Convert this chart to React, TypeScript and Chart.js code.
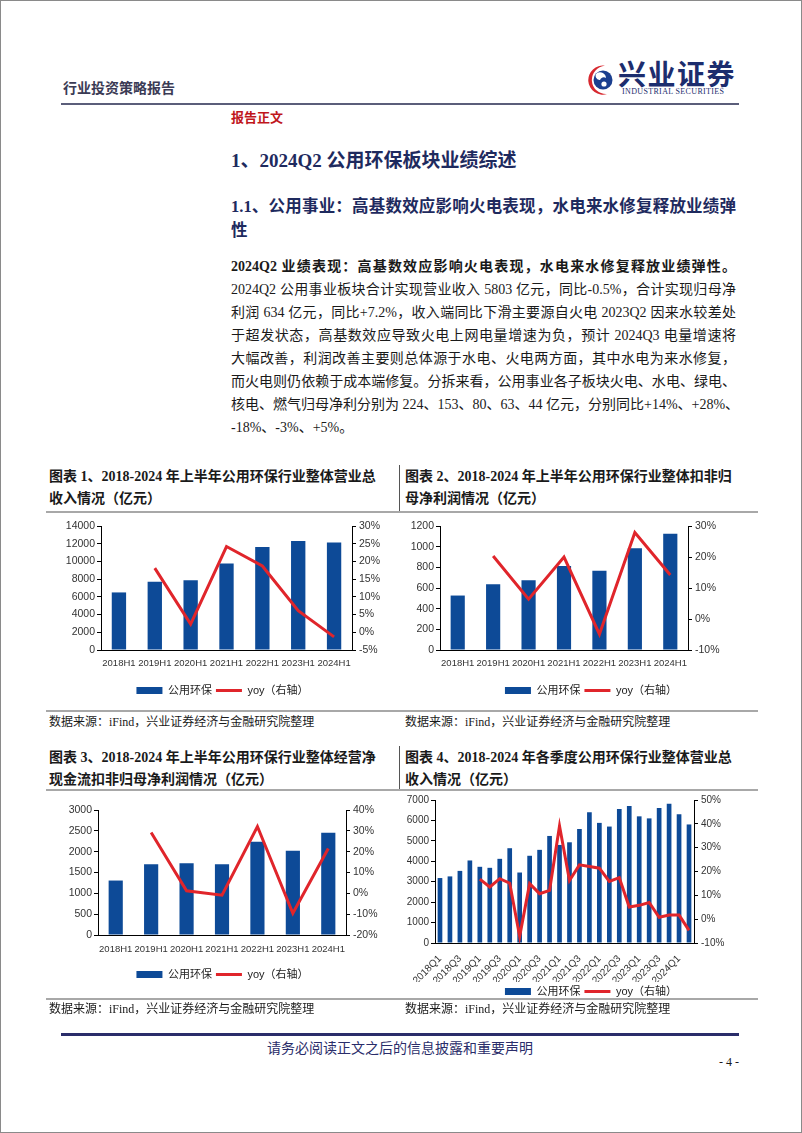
import React, { useEffect, useRef } from 'react';
import { Chart, registerables } from 'chart.js';

Chart.register(...registerables);

// ---------------- data ----------------
const halfYears = ['2018H1', '2019H1', '2020H1', '2021H1', '2022H1', '2023H1', '2024H1'];

const revenueH1 = [6500, 7700, 7880, 9760, 11640, 12300, 12150];
const revenueH1Yoy = [null, 18.1, 2.3, 24.2, 18.7, 6.1, -1.3];

const profitH1 = [527, 637, 675, 813, 768, 985, 1126];
const profitH1Yoy = [null, 20.3, 6.4, 20.0, -4.9, 27.9, 14.2];

const cashH1 = [1307, 1700, 1725, 1700, 2238, 2021, 2455];
const cashH1Yoy = [null, 29.2, 1.2, -0.9, 32.1, -9.6, 21.5];

const quarters = [
  '2018Q1', '2018Q2', '2018Q3', '2018Q4',
  '2019Q1', '2019Q2', '2019Q3', '2019Q4',
  '2020Q1', '2020Q2', '2020Q3', '2020Q4',
  '2021Q1', '2021Q2', '2021Q3', '2021Q4',
  '2022Q1', '2022Q2', '2022Q3', '2022Q4',
  '2023Q1', '2023Q2', '2023Q3', '2023Q4',
  '2024Q1', '2024Q2',
];
const revenueQ = [
  3180, 3260, 3530, 4040,
  3730, 3680, 4120, 4640,
  3450, 4270, 4560, 5240,
  4800, 4930, 5580, 6400,
  5880, 5700, 6560, 6710,
  6200, 6100, 6610, 6820,
  6300, 5803,
];
const revenueQYoy = [
  null, null, null, null,
  16.8, 13.5, 17.0, 15.1,
  -7.2, 14.9, 10.7, 12.1,
  39.1, 16.2, 22.8, 22.1,
  21.4, 15.8, 17.4, 5.1,
  5.8, 7.0, 0.8, 1.7,
  1.7, -4.7,
];

// axis ranges: [min, max, step]
const axis1Left = [0, 14000, 2000];
const axis1Right = [-5, 30, 5];
const axis2Left = [0, 1200, 200];
const axis2Right = [-10, 30, 5];
const axis3Left = [0, 3000, 500];
const axis3Right = [-20, 40, 10];
const axis4Left = [0, 7000, 1000];
const axis4Right = [-10, 50, 10];

const barLabel = '公用环保';
const lineLabel = 'yoy（右轴）';

// ---------------- styles ----------------
const BLUE = '#0d4a97';
const RED = '#e0252b';
const TICK_FONT = "'Liberation Sans', Arial, sans-serif";
const LEGEND_FONT = "'Liberation Sans', 'Noto Sans CJK SC', sans-serif";
const SERIF = "'Liberation Serif', 'Noto Sans CJK SC', serif";
const NAVY = '#1e2a5e';

type Geo = {
  left: number; top: number; width: number; height: number;
  leftW: number; rightW: number; padTop: number; xH: number;
  tickSize: number; xSize: number; xPad: number; rotate?: boolean; barPct: number;
};

function ComboChart(props: {
  labels: string[]; bars: number[]; line: (number | null)[];
  yL: number[]; yR: number[]; geo: Geo;
}) {
  const ref = useRef<HTMLCanvasElement>(null);
  const { labels, bars, line, yL, yR, geo } = props;
  useEffect(() => {
    const chart = new Chart(ref.current as HTMLCanvasElement, {
      type: 'bar',
      data: {
        labels,
        datasets: [
          {
            type: 'bar', label: barLabel, data: bars, backgroundColor: BLUE,
            yAxisID: 'y', order: 2, barPercentage: geo.barPct, categoryPercentage: 1,
          } as any,
          {
            type: 'line', label: lineLabel, data: line, borderColor: RED, backgroundColor: RED,
            borderWidth: 3, pointRadius: 0, yAxisID: 'y1', order: 1, tension: 0,
          } as any,
        ],
      },
      options: {
        animation: false,
        responsive: true,
        maintainAspectRatio: false,
        layout: { padding: { top: geo.padTop, left: 0, right: 0, bottom: 0 } },
        plugins: {
          tooltip: { enabled: false },
          legend: {
            position: 'bottom',
            labels: {
              usePointStyle: true,
              pointStyleWidth: 26,
              boxHeight: 7,
              padding: 4,
              color: '#222',
              font: { size: 11, family: LEGEND_FONT },
              generateLabels: (c: any) =>
                c.data.datasets.map((ds: any, i: number) => ({
                  text: ds.label,
                  fillStyle: i === 0 ? ds.backgroundColor : ds.borderColor,
                  strokeStyle: i === 0 ? ds.backgroundColor : ds.borderColor,
                  lineWidth: i === 0 ? 0 : 3,
                  pointStyle: i === 0 ? 'rect' : 'line',
                  fontColor: '#222',
                  hidden: false,
                  datasetIndex: i,
                })),
            },
          },
        },
        scales: {
          x: {
            grid: { display: false, drawTicks: false },
            border: { display: true, color: '#000', width: 1 },
            ticks: {
              autoSkip: false,
              maxRotation: geo.rotate ? 45 : 0,
              minRotation: geo.rotate ? 45 : 0,
              padding: geo.xPad,
              color: '#333',
              font: { size: geo.xSize, family: TICK_FONT },
              callback: (_v: any, i: number) => (geo.rotate ? (i % 2 === 0 ? labels[i] : '') : labels[i]),
            },
            afterFit: (s: any) => { s.height = geo.xH; },
          },
          y: {
            position: 'left',
            min: yL[0], max: yL[1],
            grid: { drawOnChartArea: false, drawTicks: true, tickLength: 4, color: '#000' },
            border: { display: true, color: '#000', width: 1 },
            ticks: {
              stepSize: yL[2], padding: 2, color: '#333',
              font: { size: geo.tickSize, family: TICK_FONT },
              callback: (v: any) => String(v),
            },
            afterFit: (s: any) => { s.width = geo.leftW; },
          },
          y1: {
            position: 'right',
            min: yR[0], max: yR[1],
            grid: { drawOnChartArea: false, drawTicks: true, tickLength: 4, color: '#000' },
            border: { display: true, color: '#000', width: 1 },
            ticks: {
              stepSize: yR[2], padding: 3, color: '#333',
              font: { size: geo.tickSize, family: TICK_FONT },
              callback: (v: any) => `${v}%`,
            },
            afterFit: (s: any) => { s.width = geo.rightW; },
          },
        },
      } as any,
    });
    return () => chart.destroy();
  }, []);
  return (
    <div style={{ position: 'absolute', left: geo.left, top: geo.top, width: geo.width, height: geo.height }}>
      <canvas ref={ref} />
    </div>
  );
}

function Txt(p: {
  x: number; y: number; size: number; children: React.ReactNode; bold?: boolean; color?: string;
  w?: number; justify?: boolean; font?: string; ls?: number; align?: 'left' | 'center' | 'right';
}) {
  const h = p.size * 1.5;
  return (
    <div
      style={{
        position: 'absolute', left: p.x, top: p.y - h / 2, height: h, lineHeight: `${h}px`,
        fontSize: p.size, fontWeight: p.bold ? 700 : 400, color: p.color || '#1a1a1a',
        fontFamily: p.font || SERIF, whiteSpace: 'nowrap', width: p.w,
        textAlign: p.justify ? 'justify' : p.align || 'left',
        textAlignLast: p.justify ? 'justify' : undefined,
        letterSpacing: p.ls,
      } as any}
    >
      {p.children}
    </div>
  );
}

function Rule(p: { x: number; y: number; w: number; h: number; c: string }) {
  return <div style={{ position: 'absolute', left: p.x, top: p.y, width: p.w, height: p.h, background: p.c }} />;
}

const paraLines = [
  '2024Q2 公用事业板块合计实现营业收入 5803 亿元，同比-0.5%，合计实现归母净',
  '利润 634 亿元，同比+7.2%，收入端同比下滑主要源自火电 2023Q2 因来水较差处',
  '于超发状态，高基数效应导致火电上网电量增速为负，预计 2024Q3 电量增速将',
  '大幅改善，利润改善主要则总体源于水电、火电两方面，其中水电为来水修复，',
  '而火电则仍依赖于成本端修复。分拆来看，公用事业各子板块火电、水电、绿电、',
  '核电、燃气归母净利分别为 224、153、80、63、44 亿元，分别同比+14%、+28%、',
];

export default function App() {
  return (
    <div
      style={{
        position: 'absolute', left: 0, top: 0, width: 800, height: 1131,
        border: '1px solid #8a8a8a', background: '#fff', overflow: 'hidden',
      }}
    >
      {/* header */}
      <Txt x={62} y={87} size={14} bold color="#3b3b55">行业投资策略报告</Txt>
      <svg style={{ position: 'absolute', left: 582, top: 60 }} width={34} height={38} viewBox="0 0 34 38">
        <path d="M22 4.8 A14.5 14.5 0 1 0 24 33 A11.5 11.5 0 0 1 22 4.8 Z" fill="#d7282f" />
        <circle cx={20} cy={19} r={9.5} fill="#1b3f8f" />
        <path d="M14 12 A6 6 0 0 1 23 17 A4 4 0 0 0 17 19 A4 4 0 0 1 14 12 Z" fill="#ffffff" />
        <circle cx={21} cy={23} r={2.6} fill="#ffffff" />
      </svg>
      <Txt x={617} y={75} size={28} bold color="#1c2d6e" ls={1.5}>兴业证券</Txt>
      <Txt x={621} y={91} size={8} color="#1c2d6e" ls={0.35}>INDUSTRIAL SECURITIES</Txt>
      <Rule x={60} y={102} w={678} h={2} c="#5b5e7a" />

      <Txt x={230} y={117} size={13} bold color="#c0161c">报告正文</Txt>
      <Txt x={230} y={160} size={19} bold color={NAVY}>1、2024Q2 公用环保板块业绩综述</Txt>
      <Txt x={230} y={206} size={16.5} bold color={NAVY} w={505} justify>
        1.1、公用事业：高基数效应影响火电表现，水电来水修复释放业绩弹
      </Txt>
      <Txt x={230} y={230} size={16.5} bold color={NAVY}>性</Txt>

      <Txt x={230} y={265} size={14} bold w={505} justify>
        2024Q2 业绩表现：高基数效应影响火电表现，水电来水修复释放业绩弹性。
      </Txt>
      {paraLines.map((t, i) => (
        <Txt key={i} x={230} y={288 + i * 23} size={14} w={505} justify>{t}</Txt>
      ))}
      <Txt x={230} y={426} size={14}>-18%、-3%、+5%。</Txt>

      {/* caption row 1 */}
      <Txt x={48} y={475} size={14} bold>图表 1、2018-2024 年上半年公用环保行业整体营业总</Txt>
      <Txt x={48} y={497} size={14} bold>收入情况（亿元）</Txt>
      <Txt x={404} y={475} size={14} bold>图表 2、2018-2024 年上半年公用环保行业整体扣非归</Txt>
      <Txt x={404} y={497} size={14} bold>母净利润情况（亿元）</Txt>
      <Rule x={398} y={464} w={1} h={46} c="#555" />
      <Rule x={45} y={510} w={712} h={2} c="#a8a8a8" />

      <ComboChart
        labels={halfYears} bars={revenueH1} line={revenueH1Yoy} yL={axis1Left} yR={axis1Right}
        geo={{ left: 45, top: 515, width: 353, height: 190, leftW: 55, rightW: 47, padTop: 10, xH: 31, tickSize: 10.5, xSize: 9.5, xPad: 8, barPct: 0.4 }}
      />
      <ComboChart
        labels={halfYears} bars={profitH1} line={profitH1Yoy} yL={axis2Left} yR={axis2Right}
        geo={{ left: 400, top: 515, width: 380, height: 190, leftW: 39, rightW: 93, padTop: 10, xH: 31, tickSize: 10.5, xSize: 9.5, xPad: 8, barPct: 0.4 }}
      />

      <Rule x={45} y={709} w={712} h={2} c="#a8a8a8" />
      <Txt x={48} y={721} size={12}>数据来源：iFind，兴业证券经济与金融研究院整理</Txt>
      <Txt x={404} y={721} size={12}>数据来源：iFind，兴业证券经济与金融研究院整理</Txt>

      {/* caption row 2 */}
      <Txt x={48} y={756} size={14} bold>图表 3、2018-2024 年上半年公用环保行业整体经营净</Txt>
      <Txt x={48} y={778} size={14} bold>现金流扣非归母净利润情况（亿元）</Txt>
      <Txt x={404} y={756} size={14} bold>图表 4、2018-2024 年各季度公用环保行业整体营业总</Txt>
      <Txt x={404} y={778} size={14} bold>收入情况（亿元）</Txt>
      <Rule x={398} y={745} w={1} h={43} c="#555" />
      <Rule x={45} y={788} w={712} h={2} c="#a8a8a8" />

      <ComboChart
        labels={halfYears} bars={cashH1} line={cashH1Yoy} yL={axis3Left} yR={axis3Right}
        geo={{ left: 45, top: 795, width: 353, height: 194, leftW: 52, rightW: 53, padTop: 14, xH: 30, tickSize: 10.5, xSize: 9.5, xPad: 9, barPct: 0.4 }}
      />
      <ComboChart
        labels={quarters} bars={revenueQ} line={revenueQYoy} yL={axis4Left} yR={axis4Right}
        geo={{ left: 400, top: 790, width: 380, height: 216, leftW: 34, rightW: 87, padTop: 8, xH: 39, tickSize: 10, xSize: 10, xPad: 10, rotate: true, barPct: 0.47 }}
      />

      <Rule x={45} y={997} w={712} h={2} c="#a8a8a8" />
      <Txt x={48} y={1008} size={12}>数据来源：iFind，兴业证券经济与金融研究院整理</Txt>
      <Txt x={404} y={1008} size={12}>数据来源：iFind，兴业证券经济与金融研究院整理</Txt>

      {/* footer */}
      <Rule x={60} y={1032} w={678} h={2.5} c="#2a2d6a" />
      <Txt x={60} y={1047} size={14} color="#2a2d6a" w={678} align="center">请务必阅读正文之后的信息披露和重要声明</Txt>
      <Txt x={600} y={1061} size={12} w={138} align="right">- 4 -</Txt>
    </div>
  );
}
